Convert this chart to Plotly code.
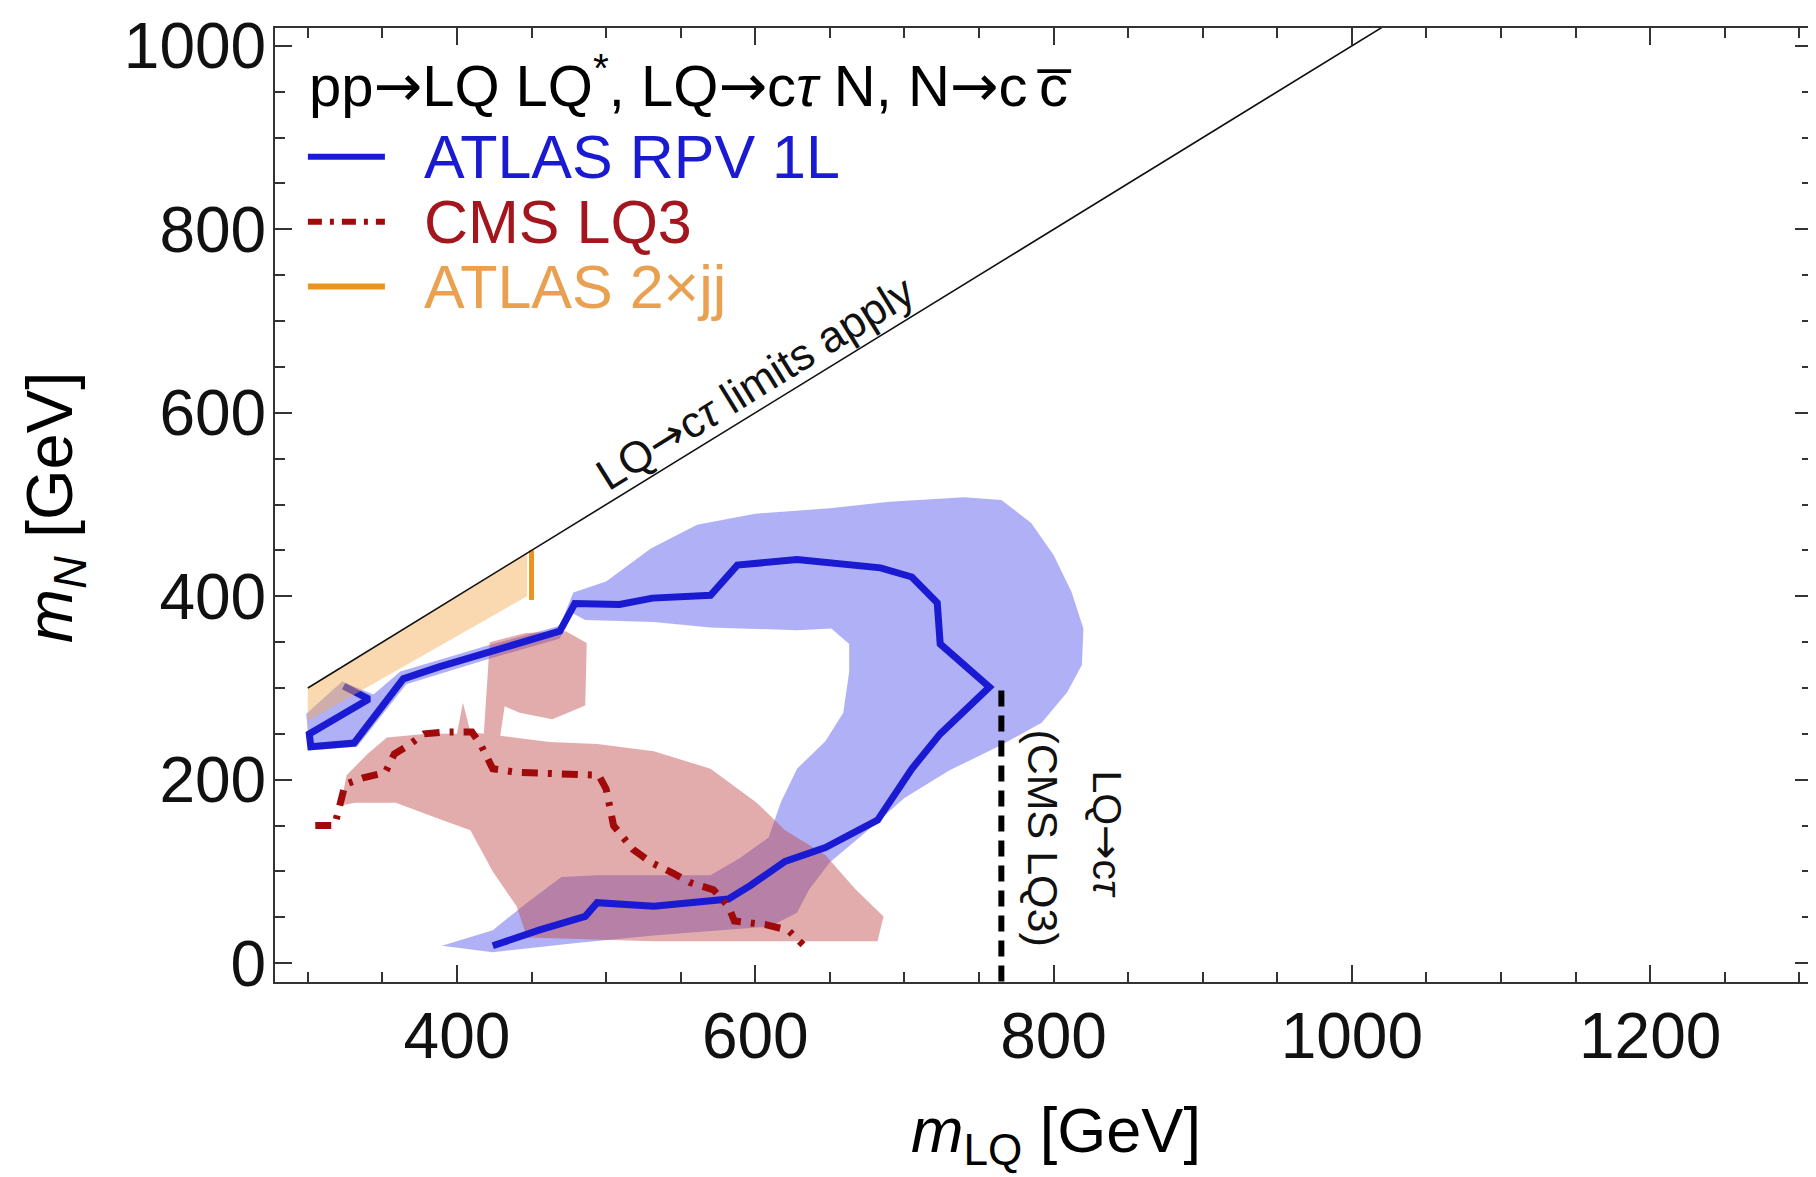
import plotly.graph_objects as go

# ---------------- data ----------------
# ATLAS RPV 1L central contour
blue_line_x = [324, 341, 301, 302, 331, 364, 388, 420, 469, 479, 509, 531, 570, 588, 628, 684, 705, 722, 724, 757,
               724, 705, 682, 647, 620, 597, 582, 532, 494, 486, 455, 424]
blue_line_y = [302, 288, 250, 236, 240, 310, 323, 338, 362, 392, 391, 398, 401, 434, 440, 431, 421, 393, 348, 301,
               250, 212, 156, 126, 111, 85, 70, 62, 66, 51, 36, 19]

# ATLAS RPV 1L band (outer edge then inner edge)
blue_band_outer_x = [299, 323, 344, 362, 420, 469, 478, 500, 530, 561, 600, 650, 690, 740, 765, 785, 800, 812, 820,
                     819, 809, 792, 765, 730, 700, 672, 650, 636, 628, 610, 570, 530, 480, 424, 390]
blue_band_outer_y = [272, 307, 293, 318, 346, 368, 404, 416, 452, 478, 490, 496, 503, 508, 505, 480, 445, 405, 365,
                     325, 295, 262, 238, 210, 180, 140, 110, 80, 55, 40, 35, 30, 22, 12, 19]
blue_band_inner_x = [424, 447, 470, 494, 570, 590, 609, 617, 628, 647, 659, 663, 663, 651, 628, 570, 532, 486, 477,
                     469, 420, 366, 333, 301]
blue_band_inner_y = [36, 66, 94, 96, 96, 115, 137, 175, 212, 242, 273, 318, 348, 365, 363, 366, 372, 374, 382,
                     354, 331, 304, 236, 232]

# CMS LQ3 central contour
red_line_x = [305, 318, 325, 337, 352, 358, 366, 378, 392, 410, 416, 424, 440, 467, 495, 500, 505, 518, 530, 545,
              556, 572, 582, 586, 607, 622, 632]
red_line_y = [150, 150, 195, 202, 208, 228, 236, 250, 252, 252, 238, 212, 208, 207, 205, 190, 150, 124, 110, 98,
              88, 80, 62, 46, 42, 36, 20]

# CMS LQ3 band
red_band_x = [322, 326, 340, 353, 380, 400, 404, 409, 418, 420, 421, 422, 446, 473, 487, 486, 464, 442, 432, 429,
              462, 494, 532, 570, 601, 620, 647, 667, 686, 682, 532, 447, 440, 424, 409, 390, 359, 332, 322]
red_band_y = [172, 205, 228, 246, 250, 250, 284, 252, 250, 300, 330, 350, 360, 362, 349, 281, 266, 273, 280, 248,
              241, 239, 231, 212, 175, 145, 118, 81, 51, 24, 24, 28, 62, 100, 145, 156, 175, 175, 172]

# ATLAS 2xjj band and limit
orange_band_x = [300, 447, 447, 300]
orange_band_y = [300, 447, 400, 264]
orange_line_x = [450, 450]
orange_line_y = [396, 450]

# kinematic line m_N = m_LQ and CMS LQ3 LQ->c tau limit
diag_x = [300, 1020]
diag_y = [300, 1020]
cms_lim_x = [765, 765]
cms_lim_y = [-20, 304]

legend_labels = ["ATLAS RPV 1L", "CMS LQ3", "ATLAS 2\u00d7jj"]

# ---------------- styling ----------------
FONT = "Liberation Sans, Arial, sans-serif"
BLUE = "#1a1ad2"
BLUE_FILL = "rgba(80,80,235,0.45)"
RED = "#a00a0a"
RED_FILL = "rgba(190,70,70,0.45)"
ORANGE = "#e8941e"
ORANGE_FILL = "rgba(245,170,80,0.45)"
AXC = "#333333"
ARROW = "<span style='font-family:DejaVu Sans'>\u2192</span>"

X_RANGE = [278, 1308.5]
Y_RANGE = [-20.5, 1019.5]

fig = go.Figure()

band_x = blue_band_outer_x + blue_band_inner_x + [blue_band_outer_x[0]]
band_y = blue_band_outer_y + blue_band_inner_y + [blue_band_outer_y[0]]
fig.add_trace(go.Scatter(x=band_x, y=band_y, mode="lines", fill="toself", fillcolor=BLUE_FILL,
                         line=dict(width=0), hoverinfo="skip"))
fig.add_trace(go.Scatter(x=red_band_x, y=red_band_y, mode="lines", fill="toself", fillcolor=RED_FILL,
                         line=dict(width=0), hoverinfo="skip"))
fig.add_trace(go.Scatter(x=blue_line_x, y=blue_line_y, mode="lines", line=dict(color=BLUE, width=7)))
fig.add_trace(go.Scatter(x=red_line_x, y=red_line_y, mode="lines",
                         line=dict(color=RED, width=7, dash="16px,10px,4px,10px")))
fig.add_trace(go.Scatter(x=orange_band_x + [orange_band_x[0]], y=orange_band_y + [orange_band_y[0]], mode="lines",
                         fill="toself", fillcolor=ORANGE_FILL, line=dict(width=0), hoverinfo="skip"))
fig.add_trace(go.Scatter(x=orange_line_x, y=orange_line_y, mode="lines", line=dict(color=ORANGE, width=5)))
fig.add_trace(go.Scatter(x=diag_x, y=diag_y, mode="lines", line=dict(color="#111111", width=1.6)))
fig.add_trace(go.Scatter(x=cms_lim_x, y=cms_lim_y, mode="lines",
                         line=dict(color="black", width=6, dash="16px,9px")))

annotations = []
# label along diagonal
annotations.append(dict(x=600, y=633, xref="x", yref="y", text="LQ" + ARROW + "c<i>\u03c4</i> limits apply",
                        showarrow=False, textangle=-31.8, font=dict(family=FONT, size=44, color="#111111")))
# labels at the dashed CMS line
annotations.append(dict(x=793, y=137, xref="x", yref="y", text="(CMS LQ3)", showarrow=False, textangle=90,
                        font=dict(family=FONT, size=43, color="#111111")))
annotations.append(dict(x=836, y=140, xref="x", yref="y", text="LQ" + ARROW + "c<i>\u03c4</i>", showarrow=False,
                        textangle=90, font=dict(family=FONT, size=41, color="#111111")))

# legend (title + entries)
annotations.append(dict(x=0.021, y=0.943, xref="paper", yref="paper", xanchor="left", yanchor="middle",
                        text="pp" + ARROW + "LQ LQ<sup>*</sup>, LQ" + ARROW + "c<i>\u03c4</i> N, N" + ARROW
                             + "c\u2009c\u0305",
                        showarrow=False, font=dict(family=FONT, size=58, color="black")))
leg_colors = [BLUE, "#a3161e", "#e9a050"]
leg_y = [0.865, 0.797, 0.729]
for lab, col, yy in zip(legend_labels, leg_colors, leg_y):
    annotations.append(dict(x=0.0955, y=yy, xref="paper", yref="paper", xanchor="left", yanchor="middle",
                            text=lab, showarrow=False, font=dict(family=FONT, size=61, color=col)))
# axis titles
annotations.append(dict(x=-0.143, y=0.497, xref="paper", yref="paper", xanchor="center", yanchor="middle",
                        text="<i>m</i><sub><i>N</i></sub> [GeV]",
                        textangle=-90, showarrow=False, font=dict(family=FONT, size=65, color="black")))
annotations.append(dict(x=0.508, y=-0.16, xref="paper", yref="paper", xanchor="center", yanchor="middle",
                        text="<i>m</i><sub>LQ</sub> [GeV]",
                        showarrow=False, font=dict(family=FONT, size=63, color="black")))

shapes = [
    dict(type="line", xref="paper", yref="paper", x0=0.0214, x1=0.0715, y0=leg_y[0], y1=leg_y[0],
         line=dict(color=BLUE, width=6)),
    dict(type="line", xref="paper", yref="paper", x0=0.0214, x1=0.0715, y0=leg_y[1], y1=leg_y[1],
         line=dict(color=RED, width=6, dash="14px,8px,4px,8px")),
    dict(type="line", xref="paper", yref="paper", x0=0.0214, x1=0.0715, y0=leg_y[2], y1=leg_y[2],
         line=dict(color=ORANGE, width=6)),
]

axis_common = dict(showgrid=False, zeroline=False, showline=True, linecolor=AXC, linewidth=2,
                   mirror="allticks", ticks="inside", ticklen=17, tickwidth=2, tickcolor=AXC,
                   ticklabeloverflow="allow",
                   tickfont=dict(family=FONT, size=64, color="#111111"))
# the page body adds an 8 px offset, so the figure is 8 px smaller than the window
fig.update_layout(
    width=1808, height=1169,
    margin=dict(l=267, r=2, t=12, b=195),
    paper_bgcolor="white", plot_bgcolor="white",
    showlegend=False,
    xaxis=dict(range=X_RANGE, tickmode="linear", tick0=0, dtick=200, ticklabelstandoff=-3,
               minor=dict(ticks="inside", ticklen=10, tickwidth=2, tickcolor=AXC, dtick=50, tick0=0),
               **axis_common),
    yaxis=dict(range=Y_RANGE, tickmode="linear", tick0=0, dtick=200, ticklabelstandoff=-6,
               minor=dict(ticks="inside", ticklen=10, tickwidth=2, tickcolor=AXC, dtick=50, tick0=0),
               **axis_common),
    annotations=annotations,
    shapes=shapes,
)

fig.write_html("out.html")
